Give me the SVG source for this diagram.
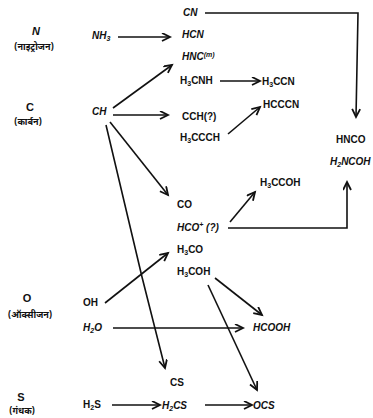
<svg xmlns="http://www.w3.org/2000/svg" width="373" height="418" viewBox="0 0 373 418">
<defs>
<style>
text{font-family:"Liberation Sans","Noto Sans",sans-serif;font-size:10px;font-weight:bold;fill:#111}
.i{font-style:italic}
.el{font-size:11px;text-anchor:middle}
.hi{font-family:"Noto Sans Devanagari","Noto Sans","Liberation Sans",sans-serif;font-size:9px;text-anchor:middle}
.s{font-size:7px}
line,polyline{stroke:#111;stroke-width:1.6;fill:none}
</style>
<marker id="a" markerWidth="12" markerHeight="12" refX="9" refY="4.5" orient="auto" markerUnits="userSpaceOnUse">
<path d="M1,0.5 L9,4.5 L1,8.5" fill="none" stroke="#111" stroke-width="1.8"/>
</marker>
</defs>
<g id="labels">
<g id="lbl-N"><text class="el i" x="36" y="35">N</text><text class="hi" x="34" y="50">(नाइट्रोजन)</text></g>
<g id="lbl-C"><text class="el" x="30" y="111">C</text><text class="hi" x="28" y="125">(कार्बन)</text></g>
<g id="lbl-O"><text class="el" x="27" y="302">O</text><text class="hi" x="30" y="318">(ऑक्सीजन)</text></g>
<g id="lbl-S"><text class="el" x="21" y="401">S</text><text class="hi" x="22" y="414">(गंधक)</text></g>
</g>
<g id="NH3"><text class="i" x="92" y="39">NH<tspan class="s" dy="2">3</tspan></text></g>
<g id="CH"><text class="i" x="92" y="115">CH</text></g>
<g id="OH"><text x="83" y="306">OH</text></g>
<g id="H2O"><text class="i" x="83" y="331">H<tspan class="s" dy="2">2</tspan><tspan dy="-2">O</tspan></text></g>
<g id="H2S"><text x="83" y="408">H<tspan class="s" dy="2">2</tspan><tspan dy="-2">S</tspan></text></g>
<g id="CN"><text class="i" x="183" y="16">CN</text></g>
<g id="HCN"><text class="i" x="182" y="38">HCN</text></g>
<g id="HNC"><text class="i" x="182" y="60">HNC<tspan class="s" dy="-3">(m)</tspan></text></g>
<g id="H3CNH"><text x="180" y="84">H<tspan class="s" dy="2">3</tspan><tspan dy="-2">CNH</tspan></text></g>
<g id="H3CCN"><text x="262" y="85">H<tspan class="s" dy="2">3</tspan><tspan dy="-2">CCN</tspan></text></g>
<g id="HCCCN"><text x="263" y="108">HCCCN</text></g>
<g id="CCH"><text x="182" y="120">CCH(?)</text></g>
<g id="H3CCCH"><text x="180" y="141">H<tspan class="s" dy="2">3</tspan><tspan dy="-2">CCCH</tspan></text></g>
<g id="HNCO"><text x="336" y="143">HNCO</text></g>
<g id="H2NCOH"><text class="i" x="330" y="165">H<tspan class="s" dy="2">2</tspan><tspan dy="-2">NCOH</tspan></text></g>
<g id="H3CCOH"><text x="260" y="186">H<tspan class="s" dy="2">3</tspan><tspan dy="-2">CCOH</tspan></text></g>
<g id="CO"><text x="177" y="208">CO</text></g>
<g id="HCOp"><text class="i" x="177" y="231">HCO<tspan class="s" dy="-4">+</tspan><tspan dy="4"> (?)</tspan></text></g>
<g id="H3CO"><text x="177" y="253">H<tspan class="s" dy="2">3</tspan><tspan dy="-2">CO</tspan></text></g>
<g id="H3COH"><text x="177" y="275">H<tspan class="s" dy="2">3</tspan><tspan dy="-2">COH</tspan></text></g>
<g id="HCOOH"><text class="i" x="253" y="331">HCOOH</text></g>
<g id="CS"><text x="170" y="386">CS</text></g>
<g id="H2CS"><text class="i" x="162" y="409">H<tspan class="s" dy="2">2</tspan><tspan dy="-2">CS</tspan></text></g>
<g id="OCS"><text class="i" x="253" y="409">OCS</text></g>
<g id="connectors">
<line x1="118" y1="37" x2="170" y2="37" marker-end="url(#a)"/>
<line x1="113" y1="108" x2="172" y2="65" marker-end="url(#a)"/>
<line x1="113" y1="115" x2="168" y2="115" marker-end="url(#a)"/>
<line x1="110" y1="122" x2="168" y2="195" marker-end="url(#a)"/>
<polyline points="106,125 142,277 165,368" marker-end="url(#a)"/>
<line x1="220" y1="81" x2="260" y2="81" marker-end="url(#a)"/>
<line x1="228" y1="134" x2="260" y2="107" marker-end="url(#a)"/>
<polyline points="205,13 358,13 356,117" marker-end="url(#a)"/>
<line x1="230" y1="222" x2="255" y2="192" marker-end="url(#a)"/>
<polyline points="228,228 347,228 347,182" marker-end="url(#a)"/>
<line x1="105" y1="303" x2="168" y2="253" marker-end="url(#a)"/>
<line x1="113" y1="328" x2="243" y2="328" marker-end="url(#a)"/>
<line x1="215" y1="278" x2="262" y2="315" marker-end="url(#a)"/>
<line x1="208" y1="285" x2="257" y2="390" marker-end="url(#a)"/>
<line x1="112" y1="405" x2="160" y2="405" marker-end="url(#a)"/>
<line x1="205" y1="405" x2="252" y2="405" marker-end="url(#a)"/>
</g>
</svg>
